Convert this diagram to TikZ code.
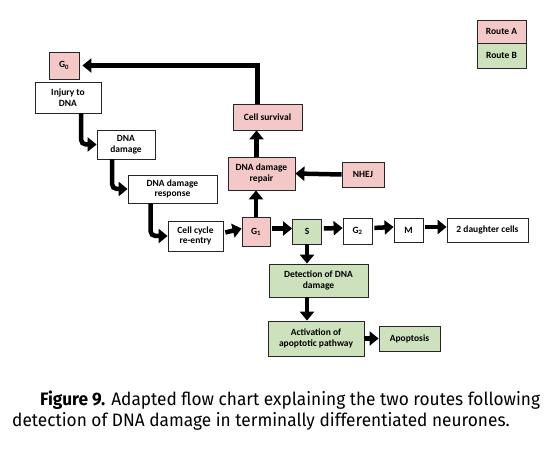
\documentclass[tikz,border=0pt]{standalone}
\usepackage{fontspec}
\setmainfont{Carlito}
\newfontfamily\capfont[FakeStretch=0.96]{Fira Sans}
\usetikzlibrary{arrows.meta}
\definecolor{routeA}{RGB}{245,200,200}
\definecolor{routeB}{RGB}{204,225,188}
\tikzset{
  box/.style={draw=black!85,line width=0.8pt,fill=white,align=center,inner sep=1pt,
    font=\bfseries\fontsize{9.5}{10.5}\selectfont},
  redbox/.style={box,fill=routeA},
  greenbox/.style={box,fill=routeB},
  flow/.style={->,line width=4.5pt},
}
\begin{document}
\begin{tikzpicture}[x=1pt,y=-1pt,>={Triangle[length=9pt,width=14pt]}]
            \useasboundingbox (0,0) rectangle (558,449);
            % legend
            \node[redbox,minimum width=49pt,minimum height=23pt] (ra) at (501.5,31.5) {Route A};
            \node[greenbox,minimum width=49pt,minimum height=25pt] (rb) at (501.5,55.5) {Route B};
            % left chain
            \node[redbox,minimum width=30pt,minimum height=27pt] (g0) at (64,65.5) {G$_{\mathbf 0}$};
            \node[box,minimum width=66pt,minimum height=31pt] (inj) at (68,97.5) {Injury to\\DNA};
            \node[box,minimum width=58pt,minimum height=29pt] (dd) at (126,144.5) {DNA\\damage};
            \node[box,minimum width=89pt,minimum height=28pt] (ddr) at (172.5,189) {DNA damage\\response};
            \node[box,minimum width=55pt,minimum height=30pt] (cc) at (195.5,236) {Cell cycle\\re-entry};
            % cell cycle row
            \node[redbox,minimum width=28pt,minimum height=29pt] (g1) at (256,231.5) {G$_{\mathbf 1}$};
            \node[greenbox,minimum width=29pt,minimum height=25pt] (s) at (307,231.5) {S};
            \node[box,minimum width=29pt,minimum height=26pt] (g2) at (357.5,231) {G$_{\mathbf 2}$};
            \node[box,minimum width=29pt,minimum height=24pt] (m) at (408.5,230) {M};
            \node[box,minimum width=81pt,minimum height=24pt] (dc) at (487.5,230) {2 daughter cells};
            % route A
            \node[redbox,minimum width=67pt,minimum height=33pt] (rep) at (261.5,173.5) {DNA damage\\repair};
            \node[redbox,minimum width=42pt,minimum height=25pt] (nhej) at (363,174.5) {NHEJ};
            \node[redbox,minimum width=69pt,minimum height=26pt] (surv) at (267.5,117) {Cell survival};
            % route B
            \node[greenbox,minimum width=99pt,minimum height=33pt] (det) at (318.5,280.5) {Detection of DNA\\damage};
            \node[greenbox,minimum width=96pt,minimum height=35pt] (act) at (316,338.5) {Activation of\\apoptotic pathway};
            \node[greenbox,minimum width=61pt,minimum height=25pt] (apo) at (409.5,338.5) {Apoptosis};
            % arrows
            \draw[flow,rounded corners=5pt] ([xshift=13pt]inj.south) |- (dd.west);
            \draw[flow,rounded corners=5pt] ([xshift=-14pt]dd.south) |- (ddr.west);
            \draw[flow,rounded corners=5pt] ([xshift=-22pt]ddr.south) |- (cc.west);
            \foreach \a/\b in {cc/g1, g1/s, s/g2, g2/m, m/dc} {
                \draw[flow,shorten <=2pt] ([yshift=3pt]\a.east) -- ([yshift=3pt]\b.west);
            }
            \draw[flow] (g1.north) -- (g1.north |- rep.south);
            \draw[flow] ([xshift=-5pt]rep.north) -- ([xshift=-5pt]rep.north |- surv.south);
            \draw[flow] (nhej.west) -- (rep.east);
            \draw[flow] ([xshift=-10pt]surv.north) |- ([xshift=3pt]g0.east);
            \draw[flow] (s.south) -- (s.south |- det.north);
            \draw[flow] (s.south |- det.south) -- (s.south |- act.north);
            \draw[flow] (act.east) -- (apo.west);
            % caption
            \node[anchor=base west,inner sep=0pt,font=\capfont\fontsize{18}{22}\selectfont] (cap1) at (40,406)
                {\textbf{Figure 9.} Adapted flow chart explaining the two routes following};
            \node[anchor=base west,inner sep=0pt,font=\capfont\fontsize{18}{22}\selectfont] (cap2) at (12,427)
                {detection of DNA damage in terminally differentiated neurones.};
\end{tikzpicture}
\end{document}
